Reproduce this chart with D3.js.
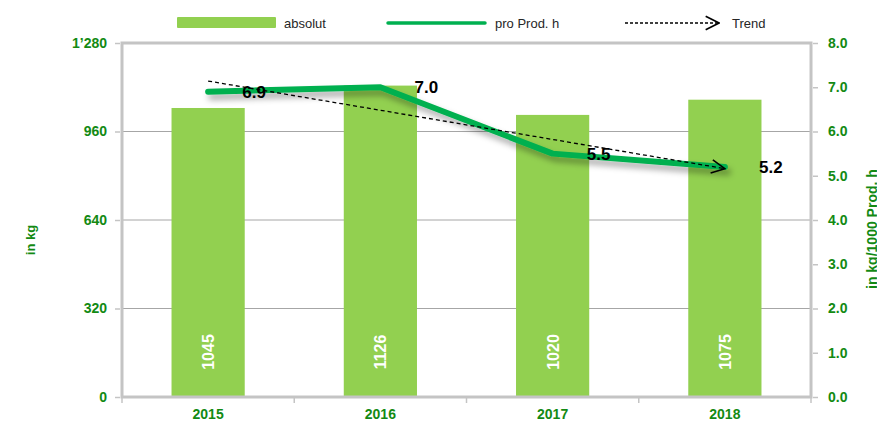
<!DOCTYPE html>
<html>
<head>
<meta charset="utf-8">
<script src="https://cdnjs.cloudflare.com/ajax/libs/d3/7.8.5/d3.min.js"></script>
<style>
  body { margin: 0; background: #fff; }
  svg { font-family: "Liberation Sans", Arial, sans-serif; }
  .tick text { fill: #138a13; font-weight: bold; font-size: 14px; }
</style>
</head>
<body>
<svg></svg>
<script>
var years = ['2015', '2016', '2017', '2018'];
var absolut = [1045, 1126, 1020, 1075];
var proProd = [6.9, 7.0, 5.5, 5.2];
var leftTicks = [0, 320, 640, 960, 1280];
var rightTicks = [0, 1, 2, 3, 4, 5, 6, 7, 8];

var width = 877, height = 422;
var plotLeft = 122, plotRight = 811, plotTop = 43, plotBottom = 397;

var svg = d3.select('svg').attr('width', width).attr('height', height);

var x = d3.scaleBand().domain(years).range([plotLeft, plotRight]).paddingInner(0.575).paddingOuter(0.2875);
var xc = d3.scalePoint().domain(years).range([plotLeft, plotRight]).padding(0.5);
var y = d3.scaleLinear().domain([0, 1280]).range([plotBottom, plotTop]);
var y2 = d3.scaleLinear().domain([0, 8]).range([plotBottom, plotTop]);

var loc = d3.formatLocale({decimal: '.', thousands: '\u2019', grouping: [3], currency: ['', '']});

var defs = svg.append('defs');
var f = defs.append('filter').attr('id', 'shadow').attr('x', '-20%').attr('y', '-50%').attr('width', '140%').attr('height', '200%');
f.append('feDropShadow').attr('dx', 3).attr('dy', 5).attr('stdDeviation', 3)
  .attr('flood-color', '#000').attr('flood-opacity', 0.35);
defs.append('marker').attr('id', 'arrow')
  .attr('viewBox', '0 0 12 12').attr('refX', 11).attr('refY', 6)
  .attr('markerWidth', 16).attr('markerHeight', 16).attr('markerUnits', 'userSpaceOnUse')
  .attr('orient', 'auto')
  .append('path').attr('d', 'M1,1 L11,6 L1,11').attr('fill', 'none').attr('stroke', '#000').attr('stroke-width', 1.2);

// gridlines
svg.append('g').selectAll('line').data(leftTicks.slice(1, 4)).enter().append('line')
  .attr('x1', plotLeft).attr('x2', plotRight).attr('y1', d => y(d)).attr('y2', d => y(d))
  .attr('stroke', '#a6a6a6').attr('stroke-width', 1);

// bars
svg.append('g').selectAll('rect').data(absolut).enter().append('rect')
  .attr('x', (d, i) => x(years[i]))
  .attr('width', x.bandwidth())
  .attr('y', d => y(d))
  .attr('height', d => plotBottom - y(d))
  .attr('fill', '#92d050');

// frame
svg.append('rect').attr('x', plotLeft).attr('y', plotTop).attr('width', plotRight - plotLeft).attr('height', plotBottom - plotTop)
  .attr('fill', 'none').attr('stroke', '#c4c4c4').attr('stroke-width', 3);

// axes
var yAxis = svg.append('g').attr('transform', `translate(${plotLeft - 2},0)`)
  .call(d3.axisLeft(y).tickValues(leftTicks).tickFormat(loc.format(',')).tickSize(5).tickPadding(8));
var y2Axis = svg.append('g').attr('transform', `translate(${plotRight + 2},0)`)
  .call(d3.axisRight(y2).tickValues(rightTicks).tickFormat(d3.format('.1f')).tickSize(5).tickPadding(10));
var xAxis = svg.append('g').attr('transform', `translate(0,${plotBottom + 2})`)
  .call(d3.axisBottom(x).tickSize(0).tickPadding(10));
[yAxis, y2Axis, xAxis].forEach(function(a) {
  a.select('.domain').remove();
  a.selectAll('.tick line').attr('stroke', '#c4c4c4').attr('stroke-width', 1.5);
});
// x-axis separator ticks
svg.append('g').selectAll('line').data(d3.range(years.length + 1)).enter().append('line')
  .attr('x1', i => plotLeft + i * (plotRight - plotLeft) / years.length)
  .attr('x2', i => plotLeft + i * (plotRight - plotLeft) / years.length)
  .attr('y1', plotBottom).attr('y2', plotBottom + 6)
  .attr('stroke', '#c4c4c4').attr('stroke-width', 1.5);

// bar value labels
svg.append('g').selectAll('text').data(absolut).enter().append('text')
  .attr('transform', (d, i) => `translate(${x(years[i]) + x.bandwidth() / 2 + 6},352) rotate(-90)`)
  .attr('text-anchor', 'middle')
  .attr('fill', '#fff').attr('font-weight', 'bold').attr('font-size', 16)
  .text(d => d);

// line series
var line = d3.line().x((d, i) => xc(years[i])).y(d => y2(d));
svg.append('path').datum(proProd)
  .attr('d', line).attr('fill', 'none').attr('stroke', '#00b050').attr('stroke-width', 6)
  .attr('stroke-linejoin', 'round').attr('stroke-linecap', 'round')
  .attr('filter', 'url(#shadow)');

// trend (linear regression)
var n = proProd.length;
var mx = d3.mean(d3.range(n)), my = d3.mean(proProd);
var slope = d3.sum(proProd, (v, i) => (i - mx) * (v - my)) / d3.sum(d3.range(n), i => (i - mx) * (i - mx));
var icpt = my - slope * mx;
svg.append('line')
  .attr('x1', xc(years[0])).attr('y1', y2(icpt))
  .attr('x2', xc(years[n - 1])).attr('y2', y2(icpt + slope * (n - 1)))
  .attr('stroke', '#000').attr('stroke-width', 1.3).attr('stroke-dasharray', '4,3')
  .attr('marker-end', 'url(#arrow)');

// line value labels
svg.append('g').selectAll('text').data(proProd).enter().append('text')
  .attr('x', (d, i) => xc(years[i]) + 46)
  .attr('y', d => y2(d) + 6)
  .attr('text-anchor', 'middle')
  .attr('font-weight', 'bold').attr('font-size', 17).attr('fill', '#000')
  .text(d => d3.format('.1f')(d));

// axis titles
svg.append('text').attr('transform', 'translate(35,240) rotate(-90)')
  .attr('text-anchor', 'middle').attr('fill', '#138a13').attr('font-weight', 'bold').attr('font-size', 13)
  .text('in kg');
svg.append('text').attr('transform', 'translate(877,289) rotate(-90)')
  .attr('text-anchor', 'start').attr('fill', '#138a13').attr('font-weight', 'bold').attr('font-size', 14)
  .text('in kg/1000 Prod. h');

// legend
var lg = svg.append('g').attr('font-size', 13).attr('fill', '#262626');
lg.append('rect').attr('x', 177).attr('y', 17).attr('width', 99).attr('height', 11).attr('rx', 1).attr('fill', '#92d050');
lg.append('text').attr('x', 284).attr('y', 28).text('absolut');
lg.append('line').attr('x1', 388).attr('x2', 485).attr('y1', 23).attr('y2', 23)
  .attr('stroke', '#00b050').attr('stroke-width', 3.5).attr('stroke-linecap', 'round');
lg.append('text').attr('x', 495).attr('y', 28).text('pro Prod. h');
lg.append('line').attr('x1', 625).attr('x2', 719).attr('y1', 23).attr('y2', 23)
  .attr('stroke', '#000').attr('stroke-width', 1.3).attr('stroke-dasharray', '3,2')
  .attr('marker-end', 'url(#arrow)');
lg.append('text').attr('x', 732).attr('y', 28).text('Trend');
</script>
</body>
</html>
